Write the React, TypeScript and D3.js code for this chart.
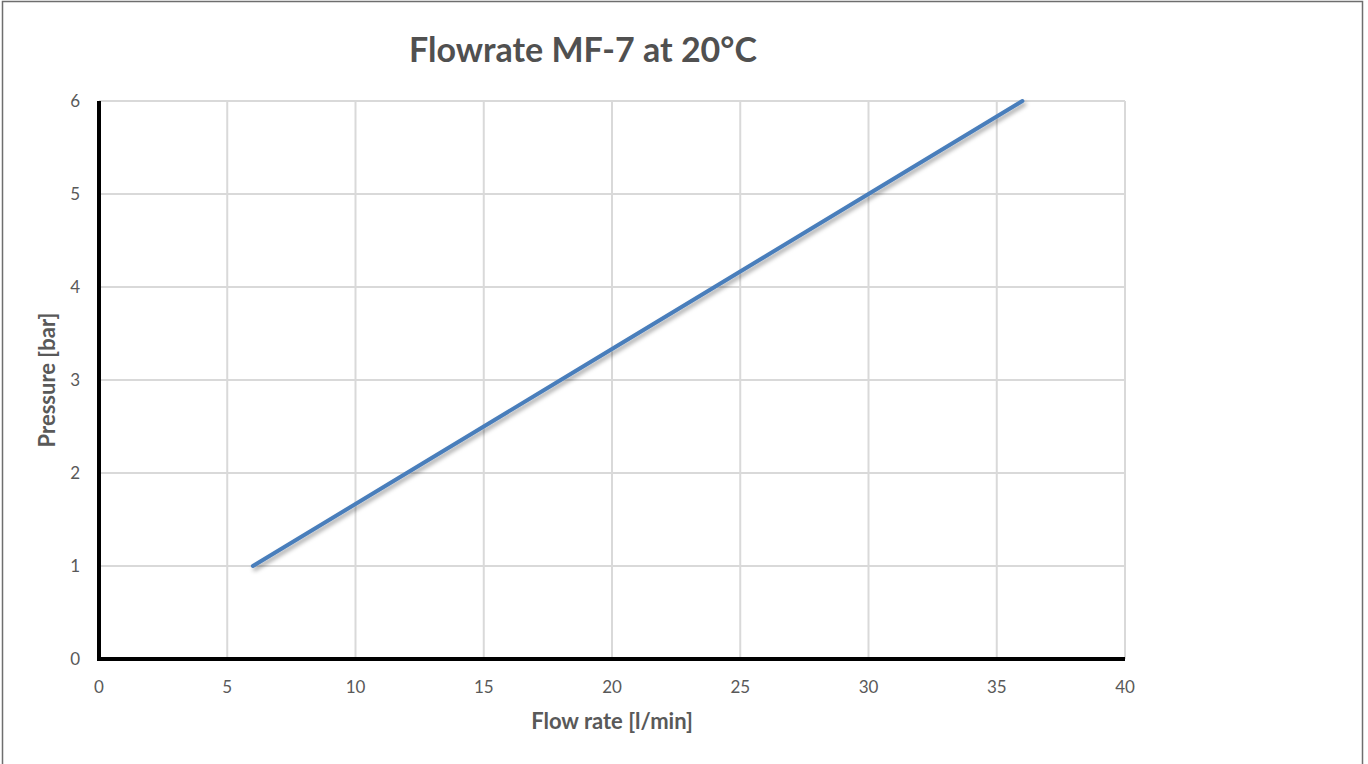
import React, { useEffect, useRef } from 'react';
import * as d3 from 'd3';

const flowRate = [6, 12, 18, 24, 30, 36];
const pressure = [1, 2, 3, 4, 5, 6];
const xTicks = [0, 5, 10, 15, 20, 25, 30, 35, 40];
const yTicks = [0, 1, 2, 3, 4, 5, 6];

const W = 1368;
const H = 764;
const margins = { l: 99, t: 101, r: 243, b: 105 };
const font = 'Lato, "Open Sans", sans-serif';

const App = () => {
  const container = useRef(null);

  useEffect(() => {
    const svg = d3
      .select(container.current)
      .selectAll('svg')
      .data([0])
      .join('svg')
      .attr('width', W)
      .attr('height', H)
      .style('display', 'block');

    svg.selectAll('*').remove();

    const plotwidth = W - margins.l - margins.r;
    const plotheight = H - margins.t - margins.b;

    const xScale = d3.scaleLinear().domain([0, 40]).range([0, plotwidth]);
    const yScale = d3.scaleLinear().domain([0, 6]).range([plotheight, 0]);

    const defs = svg.append('defs');
    const filter = defs.append('filter').attr('id', 'shadow').attr('x', '-10%').attr('y', '-10%').attr('width', '120%').attr('height', '120%');
    filter
      .append('feDropShadow')
      .attr('dx', 2)
      .attr('dy', 3)
      .attr('stdDeviation', 2)
      .attr('flood-color', '#000')
      .attr('flood-opacity', 0.35);

    svg.append('rect').attr('width', W).attr('height', H).attr('fill', '#fff');

    // outer frame
    svg
      .append('rect')
      .attr('x', 2.5)
      .attr('y', 1.5)
      .attr('width', 1360)
      .attr('height', H + 10)
      .attr('fill', 'none')
      .attr('stroke', '#6e6e6e')
      .attr('stroke-width', 1.5);

    const plotg = svg.append('g').attr('transform', `translate(${margins.l},${margins.t})`);

    // gridlines
    plotg
      .selectAll('.vgrid')
      .data(xTicks.slice(1))
      .join('line')
      .attr('x1', d => xScale(d))
      .attr('x2', d => xScale(d))
      .attr('y1', 0)
      .attr('y2', plotheight)
      .attr('stroke', '#d9d9d9')
      .attr('stroke-width', 2);

    plotg
      .selectAll('.hgrid')
      .data(yTicks.slice(1))
      .join('line')
      .attr('x1', 0)
      .attr('x2', plotwidth)
      .attr('y1', d => yScale(d))
      .attr('y2', d => yScale(d))
      .attr('stroke', '#d9d9d9')
      .attr('stroke-width', 2);

    // axis lines
    plotg
      .append('line')
      .attr('x1', 0)
      .attr('x2', 0)
      .attr('y1', 0)
      .attr('y2', plotheight + 2)
      .attr('stroke', '#000')
      .attr('stroke-width', 4);
    plotg
      .append('line')
      .attr('x1', -2)
      .attr('x2', plotwidth)
      .attr('y1', plotheight)
      .attr('y2', plotheight)
      .attr('stroke', '#000')
      .attr('stroke-width', 4);

    // series
    const pts = flowRate.map((f, i) => [f, pressure[i]]);
    const line = d3
      .line()
      .x(d => xScale(d[0]))
      .y(d => yScale(d[1]));

    plotg
      .append('path')
      .attr('d', line(pts))
      .attr('fill', 'none')
      .attr('stroke', '#4a7ebb')
      .attr('stroke-width', 4)
      .attr('stroke-linecap', 'round')
      .attr('filter', 'url(#shadow)');

    // tick labels
    plotg
      .selectAll('.xlab')
      .data(xTicks)
      .join('text')
      .attr('x', d => xScale(d))
      .attr('y', plotheight + 34)
      .attr('text-anchor', 'middle')
      .attr('font-family', font)
      .attr('font-size', 17)
      .attr('fill', '#595959')
      .text(d => d);

    plotg
      .selectAll('.ylab')
      .data(yTicks)
      .join('text')
      .attr('x', -19)
      .attr('y', d => yScale(d))
      .attr('dy', '0.35em')
      .attr('text-anchor', 'end')
      .attr('font-family', font)
      .attr('font-size', 17)
      .attr('fill', '#595959')
      .text(d => d);

    /* TITLES */
    svg
      .append('text')
      .attr('x', 583)
      .attr('y', 62)
      .attr('text-anchor', 'middle')
      .attr('font-family', font)
      .attr('font-weight', 'bold')
      .attr('font-size', 34)
      .attr('fill', '#505050')
      .text('Flowrate MF-7 at 20°C');

    svg
      .append('text')
      .attr('x', margins.l + plotwidth / 2)
      .attr('y', 729)
      .attr('text-anchor', 'middle')
      .attr('font-family', font)
      .attr('font-weight', 'bold')
      .attr('font-size', 22)
      .attr('fill', '#595959')
      .text('Flow rate [l/min]');

    svg
      .append('g')
      .attr('transform', `translate(55,${margins.t + plotheight / 2})rotate(270)`)
      .append('text')
      .attr('text-anchor', 'middle')
      .attr('font-family', font)
      .attr('font-weight', 'bold')
      .attr('font-size', 22)
      .attr('fill', '#595959')
      .text('Pressure [bar]');
  }, []);

  return <div ref={container} style={{ position: 'absolute', left: 0, top: 0 }}></div>;
};

export default App;
